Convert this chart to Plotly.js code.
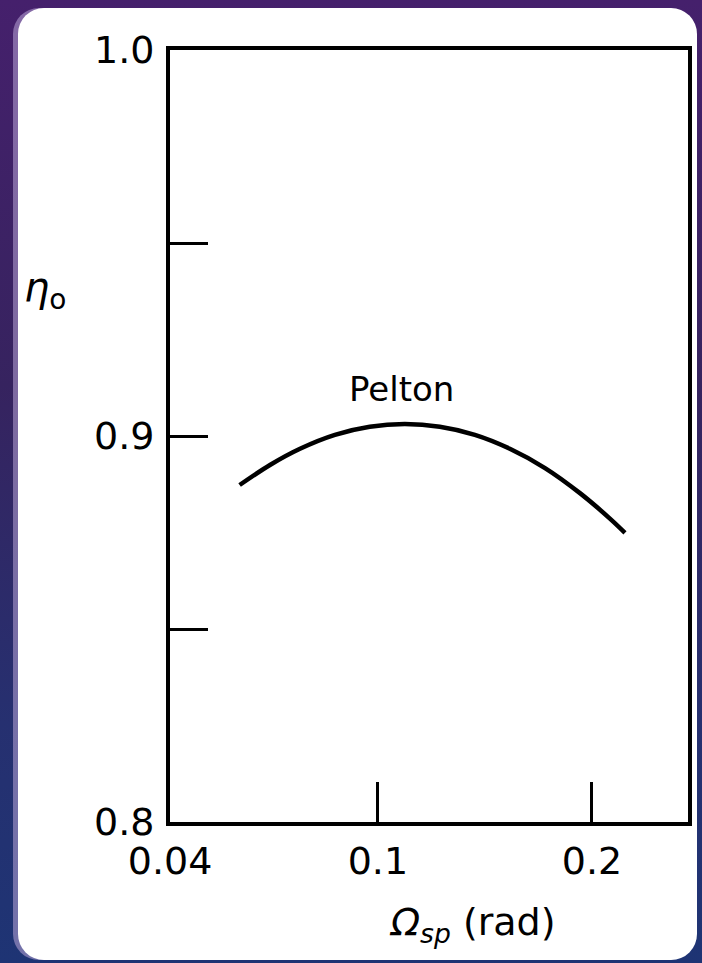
<!DOCTYPE html>
<html>
<head>
<meta charset="utf-8">
<script src="https://cdn.plot.ly/plotly-3.0.1.min.js"></script>
<style>
html,body{margin:0;padding:0;width:702px;height:963px;overflow:hidden;
  background:linear-gradient(180deg,#45206c 0%,#36235f 40%,#263070 75%,#1e3474 100%);}
#card{position:absolute;left:18px;top:8px;width:679px;height:952px;background:#ffffff;
  border-radius:26px;box-shadow:-5px 0 0 rgba(185,165,215,0.55);}
#chart{position:absolute;left:0;top:0;width:702px;height:963px;}
</style>
</head>
<body>
<div id="card"></div>
<div id="chart"></div>
<script>
// Data
const omegaSp = [0.0639, 0.0705, 0.0777, 0.0870, 0.0974, 0.1091, 0.1222, 0.1369, 0.1533, 0.1718, 0.1924, 0.2120, 0.2226];
const etaO    = [0.8873, 0.8925, 0.8967, 0.9003, 0.9024, 0.9031, 0.9024, 0.9003, 0.8967, 0.8917, 0.8852, 0.8786, 0.8749];
const seriesName = "Pelton";
const xTickVals = [0.051, 0.1, 0.2];
const xTickText = ["0.04", "0.1", "0.2"];
const yTickVals = [0.8, 0.9, 1.0];
const yTickText = ["0.8", "0.9", "1.0"];
const yMinorTickVals = [0.85, 0.95];

const W = 702, H = 963;
const M = {l: 170, r: 14, t: 50, b: 141};
const pw = W - M.l - M.r, ph = H - M.t - M.b;
const px2paperX = p => (p - M.l) / pw;
const px2paperY = p => (H - M.b - p) / ph;

const FONT = "DejaVu Sans, Liberation Sans, Arial, sans-serif";

const trace = {
  x: omegaSp, y: etaO, type: "scatter", mode: "lines",
  line: {color: "#000000", width: 4.5, shape: "spline", smoothing: 1.0},
  name: seriesName, showlegend: false, hoverinfo: "skip"
};

const axisCommon = {
  showgrid: false, zeroline: false, showline: true, mirror: true,
  linecolor: "#000000", linewidth: 4,
  ticks: "inside", tickcolor: "#000000", tickwidth: 3,
  tickfont: {family: FONT, size: 38, color: "#000000"},
  fixedrange: true
};

const layout = {
  width: W, height: H,
  margin: M,
  paper_bgcolor: "rgba(0,0,0,0)",
  plot_bgcolor: "rgba(0,0,0,0)",
  showlegend: false,
  xaxis: Object.assign({}, axisCommon, {
    type: "log",
    range: [Math.log10(0.051), Math.log10(0.273)],
    tickmode: "array", tickvals: xTickVals, ticktext: xTickText,
    ticklen: 40, ticklabelstandoff: 2
  }),
  yaxis: Object.assign({}, axisCommon, {
    range: [0.8, 1.0],
    tickmode: "array", tickvals: yTickVals, ticktext: yTickText,
    ticklen: 38, ticklabelstandoff: 4,
    minor: {tickmode: "array", tickvals: yMinorTickVals, ticks: "inside",
            ticklen: 38, tickwidth: 3, tickcolor: "#000000", showgrid: false}
  }),
  annotations: [
    {text: seriesName, xref: "x", yref: "y", x: Math.log10(0.108), y: 0.9122,
     showarrow: false, font: {family: FONT, size: 34, color: "#000000"}},
    {text: "<i>η</i><sub>o</sub>", xref: "paper", yref: "paper",
     x: px2paperX(22), xanchor: "left", y: px2paperY(290), yanchor: "middle",
     showarrow: false, font: {family: FONT, size: 40, color: "#000000"}},
    {text: "<i>Ω</i><sub><i>sp</i></sub> (rad)", xref: "paper", yref: "paper",
     x: px2paperX(472), xanchor: "center", y: px2paperY(924), yanchor: "middle",
     showarrow: false, font: {family: FONT, size: 38, color: "#000000"}}
  ]
};

Plotly.newPlot("chart", [trace], layout, {displayModeBar: false, staticPlot: true});
</script>
</body>
</html>
